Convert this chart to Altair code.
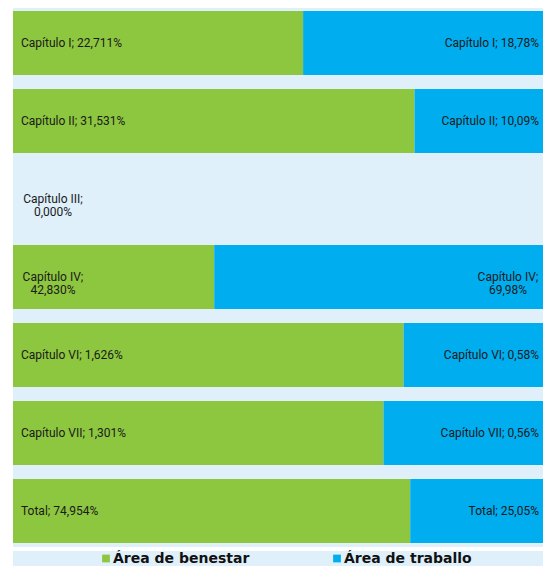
import altair as alt
import pandas as pd

rows = ["Capítulo I", "Capítulo II", "Capítulo III", "Capítulo IV",
        "Capítulo VI", "Capítulo VII", "Total"]
benestar = [22.711, 31.531, 0.000, 42.830, 1.626, 1.301, 74.954]
traballo = [18.78, 10.09, None, 69.98, 0.58, 0.56, 25.05]
wrapped = [False, False, True, True, False, False, False]
series = ["Área de benestar", "Área de traballo"]
colors = ["#8dc63f", "#00adef"]
bg = "#dff0fb"

recs = []
for r, b, t, w in zip(rows, benestar, traballo, wrapped):
    sep = ";\n" if w else "; "
    recs.append(dict(row=r, series=series[0], ord=0, value=b, wrap=w,
                     label=f"{r}{sep}{b:.3f}%".replace(".", ",")))
    if t is not None:
        recs.append(dict(row=r, series=series[1], ord=1, value=t, wrap=w,
                         label=f"{r}{sep}{t:.2f}%".replace(".", ",")))
df = pd.DataFrame(recs)

W, H = 530, 539
yenc = alt.Y("row:N", sort=rows, axis=None,
             scale=alt.Scale(paddingInner=0.1795, paddingOuter=0.045, align=0.43))

base = alt.Chart(df)
bars = base.mark_bar().encode(
    y=yenc,
    x=alt.X("value:Q", stack="normalize", axis=None,
            scale=alt.Scale(domain=[0, 1], nice=False)),
    color=alt.Color("series:N", scale=alt.Scale(domain=series, range=colors), legend=None),
    order=alt.Order("ord:Q"),
).transform_filter("datum.value > 0")

tstyle = dict(font="Roboto", fontSize=12, color="#1a1a1a", baseline="middle", lineBreak="\n", lineHeight=13)

left1 = base.mark_text(align="left", dx=8, **tstyle).encode(
    y=yenc, x=alt.datum(0), text="label:N"
).transform_filter("datum.ord == 0 && !datum.wrap")
left2 = base.mark_text(align="center", dx=40, **tstyle).encode(
    y=yenc, x=alt.datum(0), text="label:N"
).transform_filter("datum.ord == 0 && datum.wrap")
right1 = base.mark_text(align="right", dx=-4, **tstyle).encode(
    y=yenc, x=alt.datum(1), text="label:N"
).transform_filter("datum.ord == 1 && !datum.wrap")
right2 = base.mark_text(align="center", dx=-35, **tstyle).encode(
    y=yenc, x=alt.datum(1), text="label:N"
).transform_filter("datum.ord == 1 && datum.wrap")

main = alt.layer(bars, left1, left2, right1, right2).properties(
    width=W, height=H, view=alt.ViewConfig(fill=bg, stroke=None))

leg_df = pd.DataFrame({"item": series})
lx = alt.X("item:N", axis=None,
           scale=alt.Scale(domain=series, range=[93, 324], padding=0))
leg_pts = alt.Chart(leg_df).mark_point(shape="square", filled=True, size=60, opacity=1).encode(
    x=lx, color=alt.Color("item:N", scale=alt.Scale(domain=series, range=colors), legend=None))
leg_txt = alt.Chart(leg_df).mark_text(align="left", dx=7, baseline="middle", font="DejaVu Sans",
                                      fontSize=14, fontWeight="bold", color="#111111").encode(
    x=lx, text="item:N")
legend = alt.layer(leg_pts, leg_txt).properties(
    width=W, height=15, view=alt.ViewConfig(fill=bg, stroke=None))

chart = alt.vconcat(main, legend, spacing=4).properties(
    padding={"left": 5, "top": 0, "right": 0, "bottom": 0}, background="white"
).resolve_scale(color="independent").configure_view(stroke=None)

chart.save("out.html", embed_options={"renderer": "svg", "actions": False})
